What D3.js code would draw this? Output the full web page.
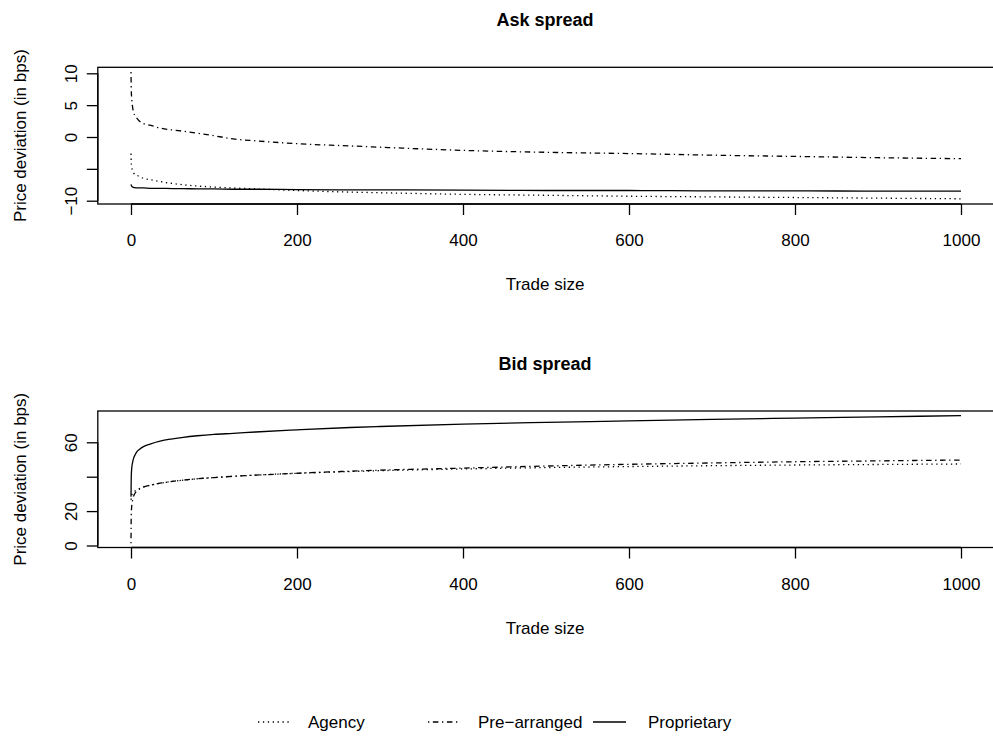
<!DOCTYPE html>
<html><head><meta charset="utf-8">
<script src="https://cdn.jsdelivr.net/npm/d3@7"></script>
<style>
body{margin:0;background:#fff;}
svg{display:block;font-family:"Liberation Sans",Arial,Helvetica,sans-serif;}
</style></head>
<body><svg id="c" width="993" height="738"></svg>
<script>
// ---- data ----
const tradeSize = [0, 0.3, 1, 2, 3, 5, 7, 10, 15, 23, 35, 50, 63, 80, 100, 123, 150, 200, 264, 300, 400, 500, 600, 700, 800, 900, 1000];

const askAgency      = [-2.6, -4.0, -4.8, -5.3, -5.6, -5.9, -6.0, -6.2, -6.5, -6.7, -7.0, -7.3, -7.5, -7.7, -7.85, -8.0, -8.15, -8.4, -8.65, -8.75, -9.0, -9.15, -9.3, -9.4, -9.5, -9.6, -9.7];
const askPrearranged = [10.2, 7.5, 5.8, 4.6, 3.9, 3.3, 2.95, 2.5, 2.1, 1.85, 1.4, 1.1, 0.9, 0.6, 0.2, -0.3, -0.6, -1.05, -1.4, -1.6, -2.1, -2.4, -2.6, -2.85, -3.05, -3.25, -3.4];
const askProprietary = [-7.45, -7.6, -7.75, -7.85, -7.9, -7.95, -8.0, -8.0, -8.0, -8.05, -8.05, -8.1, -8.1, -8.15, -8.15, -8.2, -8.2, -8.25, -8.3, -8.3, -8.35, -8.4, -8.4, -8.45, -8.45, -8.5, -8.5];

const bidAgency      = [26.5, 28.0, 29.5, 30.5, 31.2, 31.8, 32.3, 33.0, 34.0, 35.0, 36.2, 37.3, 38.0, 38.8, 39.5, 40.2, 40.9, 42.0, 43.0, 43.5, 44.5, 45.3, 45.9, 46.4, 46.8, 47.1, 47.4];
const bidPrearranged = [1.3, 18.0, 23.5, 26.5, 28.5, 30.5, 31.8, 32.8, 34.0, 35.0, 36.2, 37.3, 38.0, 38.8, 39.5, 40.2, 40.9, 42.0, 43.2, 43.8, 45.0, 46.2, 47.2, 48.0, 48.7, 49.2, 49.7];
const bidProprietary = [28.4, 40.0, 45.5, 48.5, 50.5, 52.8, 54.5, 55.8, 57.5, 59.0, 60.7, 62.0, 62.9, 63.8, 64.6, 65.2, 66.0, 67.2, 68.6, 69.2, 70.6, 71.6, 72.4, 73.3, 74.1, 74.8, 75.5];

const xTicks = [0, 200, 400, 600, 800, 1000];
const askYTicks = [-10, -5, 0, 5, 10];
const askYLabels = ["\u221210", "", "0", "5", "10"];
const bidYTicks = [0, 20, 40, 60];
const bidYLabels = ["0", "20", "", "60"];

const seriesNames = ["Agency", "Pre\u2212arranged", "Proprietary"];
const seriesDash = ["1.3 3.6", "1.3 3.6 5.5 3.6", null];

// ---- drawing ----
const svg = d3.select("#c");
const FS = 17;

function panel(opts) {
  const x = d3.scaleLinear().domain([0, 1000]).range([131, 961]);
  const y = d3.scaleLinear().domain(opts.yDom).range(opts.yRange);
  const left = x(-40), right = x(1040);
  const top = opts.boxTop, bottom = opts.boxBottom;
  const g = svg.append("g");

  // lines
  const line = d3.line().x((d, i) => x(tradeSize[i])).y(d => y(d)).curve(d3.curveMonotoneX);
  opts.series.forEach((s, k) => {
    g.append("path").attr("d", line(s)).attr("fill", "none").attr("stroke", "#000")
      .attr("stroke-width", 1.3).attr("stroke-dasharray", seriesDash[k]);
  });

  // box
  g.append("rect").attr("x", left).attr("y", top).attr("width", right - left).attr("height", bottom - top)
    .attr("fill", "none").attr("stroke", "#000").attr("stroke-width", 1.3);

  // x axis
  const xa = g.append("g").attr("transform", `translate(0,${bottom})`)
    .call(d3.axisBottom(x).tickValues(xTicks).tickSize(11).tickSizeOuter(0).tickFormat(d3.format("d")));
  xa.select(".domain").attr("d", `M${x(0)},0H${x(1000)}`).attr("stroke-width", 1.3);
  xa.selectAll(".tick line").attr("stroke-width", 1.3);
  xa.selectAll("text").attr("font-size", FS).attr("font-family", null).attr("dy", null).attr("y", 42);

  // y axis
  const ya = g.append("g").attr("transform", `translate(${left},0)`)
    .call(d3.axisLeft(y).tickValues(opts.yTicks).tickSize(11).tickSizeOuter(0)
      .tickFormat((d, i) => opts.yLabels[i]));
  ya.select(".domain").attr("d", `M0,${y(opts.yTicks[0])}V${y(opts.yTicks[opts.yTicks.length - 1])}`).attr("stroke-width", 1.3);
  ya.selectAll(".tick line").attr("stroke-width", 1.3);
  ya.selectAll("text").attr("font-size", FS).attr("font-family", null)
    .attr("x", null).attr("dy", null).attr("text-anchor", "middle")
    .attr("transform", "translate(-21,0) rotate(-90)");

  // titles
  g.append("text").attr("x", 545).attr("y", top - 41).attr("text-anchor", "middle")
    .attr("font-size", FS + 1).attr("font-weight", "bold").text(opts.title);
  g.append("text").attr("x", 545).attr("y", bottom + 86).attr("text-anchor", "middle")
    .attr("font-size", FS).text("Trade size");
  g.append("text").attr("transform", `translate(25.5,${(top + bottom) / 2}) rotate(-90)`)
    .attr("text-anchor", "middle").attr("font-size", FS).text("Price deviation (in bps)");
}

panel({
  title: "Ask spread", yDom: [-10, 10], yRange: [200.7, 73.3], boxTop: 67.3, boxBottom: 204,
  yTicks: askYTicks, yLabels: askYLabels, series: [askAgency, askPrearranged, askProprietary]
});
panel({
  title: "Bid spread", yDom: [0, 60], yRange: [545.5, 442.3], boxTop: 411, boxBottom: 547.5,
  yTicks: bidYTicks, yLabels: bidYLabels, series: [bidAgency, bidPrearranged, bidProprietary]
});

// legend
const legX = [258, 428, 593];
const legTextX = [308, 478, 648];
const leg = svg.append("g");
seriesNames.forEach((n, k) => {
  leg.append("line").attr("x1", legX[k]).attr("x2", legX[k] + 33).attr("y1", 722).attr("y2", 722)
    .attr("stroke", "#000").attr("stroke-width", 1.3).attr("stroke-dasharray", seriesDash[k]);
  leg.append("text").attr("x", legTextX[k]).attr("y", 728).attr("font-size", FS).text(n);
});
</script></body></html>
